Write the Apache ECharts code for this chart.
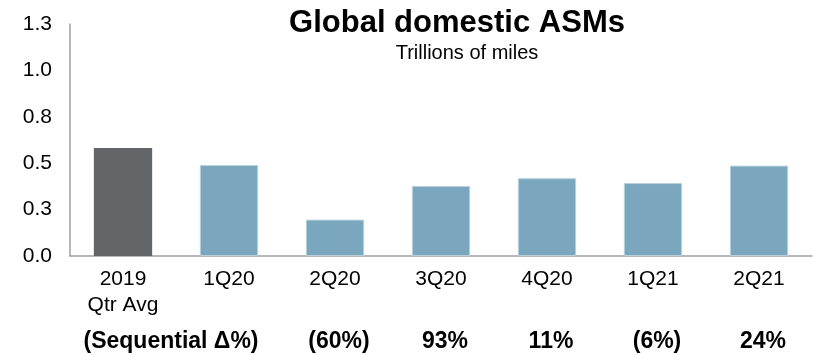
<!DOCTYPE html>
<html>
<head>
<meta charset="utf-8">
<script src="https://cdn.jsdelivr.net/npm/echarts@6/dist/echarts.min.js"></script>
<style>
  html, body { margin: 0; padding: 0; background: #fff; }
  #chart { width: 820px; height: 355px; }
</style>
</head>
<body>
<div id="chart"></div>
<script>
// categories and values (trillions of miles)
const categories = ['2019\nQtr Avg', '1Q20', '2Q20', '3Q20', '4Q20', '1Q21', '2Q21']
const asmValues = [0.582, 0.490, 0.196, 0.377, 0.419, 0.393, 0.487]
// sequential change row under the axis
const seqLabels = ['(Sequential Δ%)', '', '(60%)', '93%', '11%', '(6%)', '24%']
const yTickLabels = ['0.0', '0.3', '0.5', '0.8', '1.0', '1.3']

const font = '"Liberation Sans", Arial, sans-serif'
const gray = '#636669'
const blue = '#7aa7bd'

const chart = echarts.init(document.getElementById('chart'), null, { renderer: 'canvas' })

const option = {
  animation: false,
  title: [
    {
      text: 'Global domestic ASMs',
      left: 452, top: 3, textAlign: 'center',
      textStyle: { fontFamily: font, fontSize: 31, fontWeight: 'bold', color: '#000' }
    },
    {
      text: 'Trillions of miles',
      left: 462, top: 38, textAlign: 'center',
      textStyle: { fontFamily: font, fontSize: 20, fontWeight: 'normal', color: '#000' }
    }
  ],
  grid: { left: 70, right: 8, top: 24, bottom: 99, containLabel: false },
  xAxis: [
    {
      type: 'category',
      data: categories,
      axisLine: { lineStyle: { color: '#a0a0a0', width: 1.5 } },
      axisTick: { show: false },
      axisLabel: { interval: 0, margin: 10, color: '#000', fontFamily: font, fontSize: 21, lineHeight: 26 }
    },
    {
      type: 'category',
      position: 'bottom',
      offset: 62,
      data: seqLabels,
      axisLine: { show: false },
      axisTick: { show: false },
      axisLabel: {
        interval: 0, margin: 12, color: '#000',
        fontFamily: font, fontSize: 23, fontWeight: 'bold',
        formatter: (v, i) => i === 0 ? '{first|' + v + '}' : '{rest|' + v + '}',
        rich: {
          first: { fontFamily: font, fontSize: 23, fontWeight: 'bold', color: '#000', padding: [0, 0, 0, 96] },
          rest: { fontFamily: font, fontSize: 23, fontWeight: 'bold', color: '#000', padding: [0, 0, 0, 8] }
        }
      }
    }
  ],
  yAxis: {
    type: 'value',
    min: 0, max: 1.25, interval: 0.25,
    axisLine: { show: true, lineStyle: { color: '#a0a0a0', width: 1.5 } },
    axisTick: { show: false },
    splitLine: { show: false },
    axisLabel: {
      margin: 18, color: '#000', fontFamily: font, fontSize: 21,
      formatter: (v, i) => yTickLabels[i]
    }
  },
  series: [
    {
      type: 'bar',
      xAxisIndex: 0,
      barWidth: '55%',
      data: asmValues.map((v, i) => ({
        value: v,
        itemStyle: i === 0
          ? { color: gray }
          : { color: blue, borderColor: '#b9d1dd', borderWidth: 1 }
      }))
    }
  ]
}

chart.setOption(option)
</script>
</body>
</html>
